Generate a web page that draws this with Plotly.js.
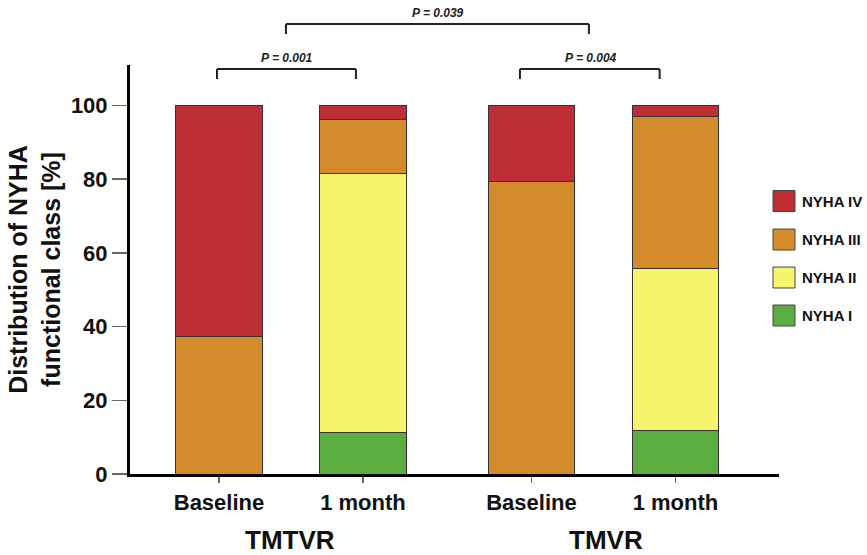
<!DOCTYPE html>
<html>
<head>
<meta charset="utf-8">
<script src="https://cdn.plot.ly/plotly-3.0.1.min.js"></script>
<style>html,body{margin:0;padding:0;background:#fff;}#chart{width:867px;height:555px;}</style>
</head>
<body>
<div id="chart"></div>
<script>
// ---- data ----
var categories = ['Baseline', '1 month', 'Baseline', '1 month'];
var groups = ['TMTVR', 'TMVR'];
var nyhaI   = [null, 11.3, null, 11.9];
var nyhaII  = [null, 70.2, null, 44.0];
var nyhaIII = [37.2, 14.7, 79.4, 41.2];
var nyhaIV  = [62.8, 3.8, 20.6, 2.9];
var seriesNames = ['NYHA I', 'NYHA II', 'NYHA III', 'NYHA IV'];
var pLabels = ['P = 0.001', 'P = 0.004', 'P = 0.039'];
var yTicks = [0, 20, 40, 60, 80, 100];

// ---- layout / style ----
var slotX = [0, 1, 2.17, 3.17];
var colors = ['#5CAD40', '#F4F56C', '#D48B2B', '#BE2D33'];
var FONT = 'Liberation Sans, Arial, sans-serif';
var series = [nyhaI, nyhaII, nyhaIII, nyhaIV];

var traces = series.map(function (vals, i) {
  return {
    type: 'bar',
    name: seriesNames[i],
    x: slotX,
    y: vals,
    width: 0.6,
    marker: {color: colors[i], line: {color: '#333333', width: 1}},
    showlegend: false,
    hoverinfo: 'name+y'
  };
});

// plot area: x 130..779 px, y 65..474 px
var plotTop = 65, plotBot = 474, plotH = plotBot - plotTop;
function py(px) { return (plotBot - px) / plotH; }

var shapes = [];
var annotations = [];

// brackets
function bracket(x0, x1, yTopPx, yBotPx) {
  var ln = {color: '#222', width: 2};
  shapes.push({type: 'line', xref: 'x', yref: 'paper', x0: x0, x1: x1, y0: py(yTopPx), y1: py(yTopPx), line: ln});
  shapes.push({type: 'line', xref: 'x', yref: 'paper', x0: x0, x1: x0, y0: py(yTopPx), y1: py(yBotPx), line: ln});
  shapes.push({type: 'line', xref: 'x', yref: 'paper', x0: x1, x1: x1, y0: py(yTopPx), y1: py(yBotPx), line: ln});
}
bracket(-0.014, 0.951, 69, 79);
bracket(2.09, 3.06, 69, 79);
bracket(0.465, 2.569, 24, 34);

var pPos = [[0.47, 58], [2.58, 58], [1.52, 13]];
pLabels.forEach(function (t, i) {
  annotations.push({text: t, xref: 'x', yref: 'paper', x: pPos[i][0], y: py(pPos[i][1]),
    xanchor: 'center', yanchor: 'middle', showarrow: false,
    font: {family: FONT, size: 12, color: '#222', weight: 'bold', style: 'italic'}});
});

// group labels
var groupX = [0.49, 2.69];
groups.forEach(function (g, i) {
  annotations.push({text: g, xref: 'x', yref: 'paper', x: groupX[i], y: py(540),
    xanchor: 'center', yanchor: 'middle', showarrow: false,
    font: {family: FONT, size: 26, color: '#111', weight: 'bold'}});
});

// legend (manual, larger swatches)
var legCenters = [315.5, 277.5, 239.5, 201];
for (var i = 0; i < 4; i++) {
  var c = legCenters[i];
  shapes.push({type: 'rect', xref: 'paper', yref: 'paper',
    x0: (773 - 130) / 649, x1: (795 - 130) / 649, y0: py(c + 10.5), y1: py(c - 10.5),
    fillcolor: colors[i], line: {color: '#444', width: 1}});
  annotations.push({text: seriesNames[i], xref: 'paper', yref: 'paper',
    x: (800 - 130) / 649, y: py(c), xanchor: 'left', yanchor: 'middle', showarrow: false,
    font: {family: FONT, size: 15, color: '#111', weight: 'bold'}});
}

var layout = {
  width: 867, height: 555,
  margin: {l: 130, r: 88, t: plotTop, b: 555 - plotBot, pad: 0},
  paper_bgcolor: '#fff', plot_bgcolor: '#fff',
  barmode: 'stack',
  showlegend: false,
  xaxis: {
    range: [-0.618, 3.889],
    tickvals: slotX, ticktext: categories,
    showline: true, linecolor: '#000', linewidth: 3,
    ticks: 'outside', ticklen: 6, tickwidth: 1.5, tickcolor: '#666',
    ticklabelstandoff: 1,
    showgrid: false, zeroline: false,
    tickfont: {family: FONT, size: 22, color: '#111', weight: 'bold'}
  },
  yaxis: {
    range: [0, 111],
    tickvals: yTicks,
    showline: true, linecolor: '#000', linewidth: 3,
    ticks: 'outside', ticklen: 15, tickwidth: 1.5, tickcolor: '#666',
    showgrid: false, zeroline: false,
    tickfont: {family: FONT, size: 22, color: '#111', weight: 'bold'},
    title: {text: 'Distribution of NYHA<br>functional class [%]', standoff: 4,
      font: {family: FONT, size: 25, color: '#111', weight: 'bold'}}
  },
  shapes: shapes,
  annotations: annotations
};

Plotly.newPlot('chart', traces, layout, {displayModeBar: false, staticPlot: true});
</script>
</body>
</html>
